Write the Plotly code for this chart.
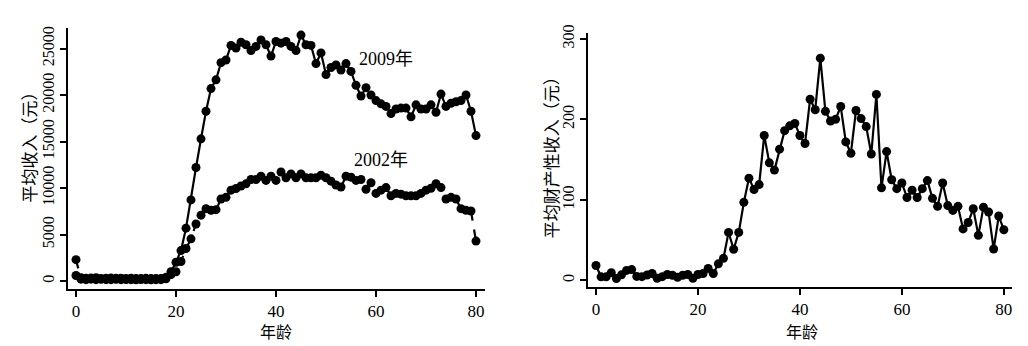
import plotly.graph_objects as go

ages = list(range(0, 81))

income_2009 = [600, 350, 300, 320, 350, 280, 300, 320, 290, 300,
               280, 300, 280, 270, 290, 260, 270, 280, 400, 1000,
               2020, 3280, 5690, 8730, 12220, 15300, 18270, 20710, 21650, 23500,
               23790, 25360, 25070, 25700, 25430, 24800, 25250, 25950, 25430, 24210,
               25780, 25600, 25780, 25250, 24800, 26470, 25430, 25360, 23400, 24550,
               22220, 22980, 23260, 22700, 23400, 22560, 21060, 19910, 20810, 20020,
               19420, 19070, 18790, 18020, 18510, 18610, 18610, 17670, 18960, 18510,
               18510, 18960, 18160, 20120, 18790, 19130, 19300, 19420, 20020, 18270,
               15650]

income_2002 = [2300, 200, 150, 200, 150, 180, 150, 150, 180, 150,
               160, 150, 140, 160, 150, 140, 150, 150, 250, 700,
               1000, 2100, 3500, 4540, 6140, 7090, 7790, 7610, 7680, 8830,
               9010, 9780, 9960, 10230, 10460, 10930, 10930, 11280, 10830, 11280,
               10830, 11740, 11110, 11530, 11110, 11530, 11110, 11110, 11110, 11380,
               11110, 10750, 10330, 10120, 11280, 11180, 10830, 10930, 9880, 10580,
               9430, 9780, 10060, 9180, 9430, 9350, 9180, 9180, 9180, 9430,
               9780, 9990, 10480, 10060, 8830, 9010, 8830, 7790, 7610, 7540,
               4300]

property_income = [18.6, 4.5, 4.5, 9.7, 2.4, 7, 12.5, 13.5, 5, 4.7,
                   6.7, 8.6, 2.7, 4.7, 7.4, 6.5, 4, 6.5, 7.4, 2.7,
                   7.4, 8.6, 15, 8.6, 20.6, 27.5, 59.7, 38.7, 59.7, 97,
                   127, 113, 119, 180, 146, 137, 163, 186, 192, 195,
                   180, 170, 225, 212, 276, 210, 198, 200, 216, 172,
                   158, 211, 201, 191, 157, 231, 115, 160, 125, 114,
                   121, 103, 112, 103, 114, 124, 102, 92, 121, 93,
                   87, 92, 64, 72, 89, 56, 91, 85, 39, 80,
                   63]

x_ticks = [0, 20, 40, 60, 80]
y1_ticks = [0, 5000, 10000, 15000, 20000, 25000]
y1_labels = ["0", "5000", "10000", "15000", "20000", "25000"]
y2_ticks = [0, 100, 200, 300]
y2_labels = ["0", "100", "200", "300"]

W, H = 1028, 346
SERIF = "Liberation Serif, Times New Roman, serif"
CJK = "Noto Sans CJK SC"

def px(x):
    return x / W

def py(y):
    return 1 - y / H

fig = go.Figure()

marker = dict(color="black", size=9)
fig.add_trace(go.Scatter(x=ages, y=income_2009, mode="lines+markers",
                         line=dict(color="black", width=2.2), marker=marker,
                         xaxis="x", yaxis="y", showlegend=False))
fig.add_trace(go.Scatter(x=ages, y=income_2002, mode="lines+markers",
                         line=dict(color="black", width=2.2, dash="dash"), marker=marker,
                         xaxis="x", yaxis="y", showlegend=False))
fig.add_trace(go.Scatter(x=ages, y=property_income, mode="lines+markers",
                         line=dict(color="black", width=2.2), marker=marker,
                         xaxis="x2", yaxis="y2", showlegend=False))

axis_common = dict(showgrid=False, zeroline=False, showline=True, linecolor="black",
                   linewidth=2, ticks="outside", ticklen=6, tickwidth=1.5,
                   tickcolor="black")
xfont = dict(family=SERIF, size=17, color="black")
yfont = dict(family=SERIF, size=16, color="black")

fig.update_layout(
    width=W, height=H,
    margin=dict(l=0, r=0, t=0, b=0),
    paper_bgcolor="white", plot_bgcolor="white",
    xaxis=dict(domain=[px(68), px(485)], range=[-1.6, 81.8], tickvals=x_ticks,
               anchor="y", tickfont=xfont, **axis_common),
    yaxis=dict(domain=[py(287), py(20)], range=[-807, 27180], tickvals=y1_ticks,
               ticktext=y1_labels, tickangle=-90, anchor="x", tickfont=yfont, **axis_common),
    xaxis2=dict(domain=[px(588), px(1012)], range=[-1.57, 81.6], tickvals=x_ticks,
                anchor="y2", tickfont=xfont, **axis_common),
    yaxis2=dict(domain=[py(285), py(25)], range=[-7.6, 306.8], tickvals=y2_ticks,
                ticktext=y2_labels, tickangle=-90, anchor="x2", tickfont=yfont, **axis_common),
)

def ann(text, x, y, size=18, angle=0, family=CJK):
    fig.add_annotation(text=text, xref="paper", yref="paper", x=px(x), y=py(y),
                       showarrow=False, textangle=angle, xanchor="center", yanchor="middle",
                       font=dict(family=family, size=size, color="black"))

ann("年龄", 276, 331, size=16)
ann("年龄", 802, 331, size=16)
ann("平均收入（元）", 28, 138, size=17, angle=-90)
ann("平均财产性收入（元）", 550, 148, size=17, angle=-90)
ann("2009<span style='font-family:Noto Sans CJK SC'>年</span>", 386, 49, size=18, family=SERIF)
ann("2002<span style='font-family:Noto Sans CJK SC'>年</span>", 381, 153, size=18, family=SERIF)

fig.write_html("out.html", config={"displayModeBar": False},
               post_script="document.body.style.margin='0';document.body.style.overflow='hidden';")
